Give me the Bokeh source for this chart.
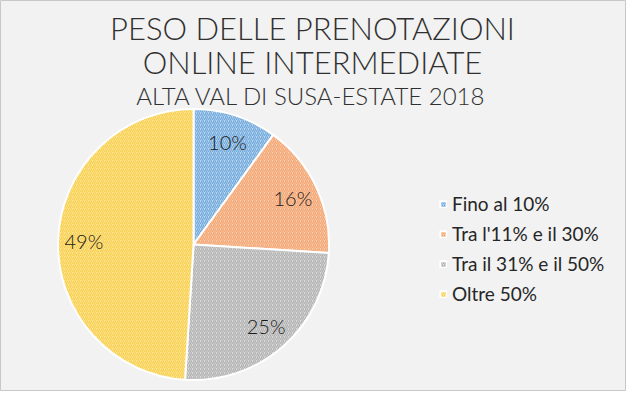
import math
from bokeh.plotting import figure
from bokeh.models import Range1d, ColumnDataSource, Legend, LegendItem
from bokeh.core.properties import value
from bokeh.embed import file_html
from bokeh.resources import INLINE

title_lines = ["PESO DELLE PRENOTAZIONI", "ONLINE INTERMEDIATE", "ALTA VAL DI SUSA-ESTATE 2018"]
categories = ["Fino al 10%", "Tra l'11% e il 30%", "Tra il 31% e il 50%", "Oltre 50%"]
shares = [10, 16, 25, 49]
labels = ["10%", "16%", "25%", "49%"]
fills = ["#bdd7ee", "#f8cbad", "#dbdbdb", "#ffe699"]
hatches = ["#6fa8dc", "#f4a672", "#b0b0b0", "#f7cf4f"]

W, H = 626, 391
FONT = "Lato"
TFONT = "Lato Light, Lato"

p = figure(width=W, height=H, output_backend="svg", toolbar_location=None,
           x_range=Range1d(0, 642), y_range=Range1d(0, 407),
           min_border=0, background_fill_color="#f2f2f2", border_fill_color="#f2f2f2",
           outline_line_color="#c8c8c8")
p.axis.visible = False
p.grid.visible = False

cx, cy, R = 198, 407 - 254, 139
total = sum(shares)
starts, ends, lx, ly = [], [], [], []
acc = 0.0
for s in shares:
    a0 = math.pi / 2 - 2 * math.pi * acc / total
    a1 = math.pi / 2 - 2 * math.pi * (acc + s) / total
    starts.append(a1)
    ends.append(a0)
    mid = (a0 + a1) / 2
    lx.append(cx + 0.81 * R * math.cos(mid))
    ly.append(cy + 0.81 * R * math.sin(mid))
    acc += s

src = ColumnDataSource(dict(start=starts, end=ends, fill=fills, hatch=hatches,
                            cat=categories, lx=lx, ly=ly, lab=labels))
r = p.wedge(x=cx, y=cy, radius=R, start_angle="start", end_angle="end", source=src,
            fill_color="fill", hatch_color="hatch", hatch_pattern="right_diagonal_line",
            hatch_scale=4, hatch_weight=1.2, line_color="white", line_width=2)

p.text(x="lx", y="ly", text="lab", source=src, text_font=value(TFONT),
       text_font_size="20px", text_color="#1a1a1a", text_align="center",
       text_baseline="middle")

tsrc = ColumnDataSource(dict(x=[320, 320, 319], y=[407 - 29, 407 - 64, 407 - 99],
                             t=title_lines, s=["31px", "31px", "24px"]))
p.text(x="x", y="y", text="t", source=tsrc, text_font=value(TFONT),
       text_font_size="s", text_color="#303030", text_align="center",
       text_baseline="middle")

items = [LegendItem(label=c, renderers=[r], index=i) for i, c in enumerate(categories)]
leg = Legend(items=items, location=(439, 86), background_fill_alpha=0,
             border_line_alpha=0, label_text_font=FONT, label_text_font_size="19px",
             label_text_color="#262626", glyph_width=8, glyph_height=8,
             label_height=22, label_standoff=5, spacing=7, padding=0, margin=0)
p.add_layout(leg)

open("out.html", "w").write(file_html(p, INLINE))
